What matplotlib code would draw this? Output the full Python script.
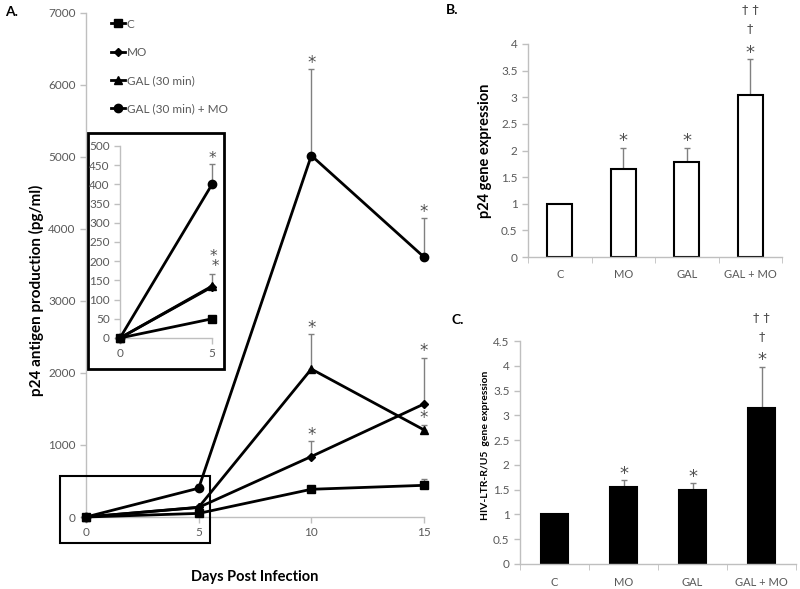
import matplotlib
matplotlib.use('Agg')
import matplotlib.pyplot as plt
from matplotlib.patches import Rectangle
from matplotlib.lines import Line2D
import numpy as np

plt.rcParams['font.family'] = ['Lato', 'DejaVu Sans']

# Panel A: p24 antigen (pg/ml) vs days
dias = [0, 5, 10, 15]
series_nomes = ['C', 'MO', 'GAL (30 min)', 'GAL (30 min) + MO']
c_vals = [0, 50, 385, 440]
c_err = [0, 0, 0, 85]
mo_vals = [0, 133, 840, 1570]
mo_err = [0, 0, 215, 640]
gal_vals = [0, 135, 2055, 1210]
gal_err = [0, 32, 485, 70]
galmo_vals = [0, 400, 5020, 3610]
galmo_err = [0, 53, 1200, 540]

# Panel B and C: gene expression
categorias = ['C', 'MO', 'GAL', 'GAL + MO']
p24_vals = [1.0, 1.66, 1.79, 3.05]
p24_err = [0, 0.39, 0.26, 0.67]
ltr_vals = [1.0, 1.56, 1.50, 3.15]
ltr_err = [0, 0.13, 0.13, 0.83]

W, H = 800, 589
fig = plt.figure(figsize=(W / 100, H / 100), dpi=100)
fig.patch.set_facecolor('white')

cinza_eixo = '#bfbfbf'
cinza_txt = '#595959'
cinza_err = '#808080'
cor_estrela = '#505050'


def fx(x):
    return x / W


def fy(y):
    return 1 - y / H


def estilo_eixo(ax):
    for s in ['top', 'right']:
        ax.spines[s].set_visible(False)
    for s in ['left', 'bottom']:
        ax.spines[s].set_color(cinza_eixo)
        ax.spines[s].set_linewidth(1)
    ax.tick_params(colors=cinza_eixo, labelcolor=cinza_txt, labelsize=8.5,
                   length=4, width=1)


def estrela(ax, x, y, txt='*', dx=0, dy=1, size=11):
    # asterisco / cruz acima da barra de erro
    ax.annotate(txt, (x, y), xytext=(dx, dy), textcoords='offset points',
                ha='center', va='baseline', fontsize=size, color=cor_estrela,
                family='DejaVu Sans', annotation_clip=False, linespacing=0.55)


marcadores = ['s', 'D', '^', 'o']
tamanhos = [6, 4, 6, 6]
todas = [c_vals, mo_vals, gal_vals, galmo_vals]
todos_err = [c_err, mo_err, gal_err, galmo_err]

# ---------- Panel A ----------
axA = fig.add_axes([fx(86), fy(517), fx(424 - 86), (517 - 13) / H])
estilo_eixo(axA)
for vals, err, m, ms in zip(todas, todos_err, marcadores, tamanhos):
    axA.errorbar(dias, vals, yerr=[np.zeros(len(err)), err], fmt='none',
                 ecolor=cinza_err, elinewidth=1, capsize=2, clip_on=False)
    axA.plot(dias, vals, color='black', lw=2, marker=m, ms=ms, clip_on=False, zorder=3)
axA.set_xlim(0, 15)
axA.set_ylim(0, 7000)
axA.set_xticks(dias)
axA.set_yticks(range(0, 7001, 1000))
axA.set_ylabel('p24 antigen production (pg/ml)', fontsize=11, fontweight='bold',
               color='black')
axA.yaxis.set_label_coords(-0.125, 0.45)
axA.set_xlabel('Days Post Infection', fontsize=10.5, fontweight='bold', color='black')
axA.xaxis.set_label_coords(0.5, -0.105)

# asterisks on panel A
estrelas_A = [(10, galmo_vals[2] + galmo_err[2]), (15, galmo_vals[3] + galmo_err[3]),
              (10, gal_vals[2] + gal_err[2]), (10, mo_vals[2] + mo_err[2]),
              (15, mo_vals[3] + mo_err[3]), (15, gal_vals[3] + gal_err[3])]
for x, y in estrelas_A:
    estrela(axA, x, y, size=12)

leg_handles = [Line2D([], [], color='black', lw=2, marker=m, ms=ms)
               for m, ms in zip(marcadores, tamanhos)]
axA.legend(leg_handles, series_nomes, loc='upper left',
           bbox_to_anchor=(fx(100), fy(8)), bbox_transform=fig.transFigure,
           frameon=False, fontsize=8.5, handlelength=1.2, handletextpad=0.15,
           labelspacing=1.45, labelcolor=cinza_txt)

# rectangles (inset frame and zoom box)
axA.add_patch(Rectangle((fx(88), fy(369)), fx(224 - 88), (369 - 133) / H,
                        transform=fig.transFigure, facecolor='white',
                        edgecolor='black', lw=2, clip_on=False, zorder=5))
axA.add_patch(Rectangle((fx(60), fy(543)), fx(210 - 60), (543 - 476) / H,
                        transform=fig.transFigure, facecolor='none',
                        edgecolor='black', lw=1.5, clip_on=False, zorder=5))

# ---------- Inset ----------
axI = fig.add_axes([fx(120), fy(338), fx(212 - 120), (338 - 146) / H])
estilo_eixo(axI)
for vals, err, m, ms in zip(todas, todos_err, marcadores, tamanhos):
    axI.errorbar(dias[:2], vals[:2], yerr=[[0, 0], err[:2]], fmt='none',
                 ecolor=cinza_err, elinewidth=1, capsize=2, clip_on=False)
    axI.plot(dias[:2], vals[:2], color='black', lw=2, marker=m, ms=ms,
             clip_on=False, zorder=3)
axI.set_xlim(0, 5)
axI.set_ylim(0, 500)
axI.set_xticks([0, 5])
axI.set_yticks(range(0, 501, 50))
axI.tick_params(labelsize=8.5)
estrela(axI, 5, galmo_vals[1] + galmo_err[1], size=11)
estrela(axI, 5, gal_vals[1] + gal_err[1], txt='*\n *', dx=1, dy=2, size=11)


def painel_barras(ax, vals, err, cor, topo, passo, rotulo, rot_size):
    estilo_eixo(ax)
    xs = np.arange(len(categorias))
    ax.bar(xs, vals, width=0.4, color=cor, edgecolor='black', lw=1.5, zorder=2)
    ax.errorbar(xs, vals, yerr=[np.zeros(len(err)), err], fmt='none',
                ecolor=cinza_err, elinewidth=1, capsize=2, zorder=1)
    ax.set_xlim(-0.5, len(categorias) - 0.5)
    ax.set_ylim(0, topo)
    ticks = np.arange(0, topo + 0.01, passo)
    ax.set_yticks(ticks)
    ax.set_yticklabels(['%g' % v for v in ticks])
    ax.set_xticks(xs)
    ax.set_xticklabels(categorias)
    ax.tick_params(axis='x', length=0, pad=9, labelsize=8)
    ax.set_xticks(np.arange(-0.5, len(categorias), 1), minor=True)
    ax.tick_params(axis='x', which='minor', length=4, color=cinza_eixo)
    ax.set_ylabel(rotulo, fontsize=rot_size, fontweight='bold', color='black')
    for i in range(1, len(categorias)):
        estrela(ax, i, vals[i] + err[i], size=13)
    i = len(categorias) - 1
    estrela(ax, i, vals[i] + err[i], txt='\u2020', dy=19, size=9)
    estrela(ax, i, vals[i] + err[i], txt='\u2020 \u2020', dy=33, size=9)


# ---------- Panel B ----------
axB = fig.add_axes([fx(528), fy(257), fx(782 - 528), (257 - 44) / H])
painel_barras(axB, p24_vals, p24_err, 'white', 4, 0.5, 'p24 gene expression', 10.5)
axB.yaxis.set_label_coords(-0.14, 0.5)

# ---------- Panel C ----------
axC = fig.add_axes([fx(520), fy(564), fx(796 - 520), (564 - 341) / H])
painel_barras(axC, ltr_vals, ltr_err, 'black', 4.5, 0.5,
              'HIV-LTR-R/U5  gene expression', 7.5)
axC.yaxis.set_label_coords(-0.11, 0.53)

# panel letters
fig.text(fx(5), fy(12), 'A.', fontsize=10, fontweight='bold', va='center')
fig.text(fx(446), fy(10), 'B.', fontsize=10, fontweight='bold', va='center')
fig.text(fx(452), fy(320), 'C.', fontsize=10, fontweight='bold', va='center')

fig.savefig('out.png', dpi=100)
